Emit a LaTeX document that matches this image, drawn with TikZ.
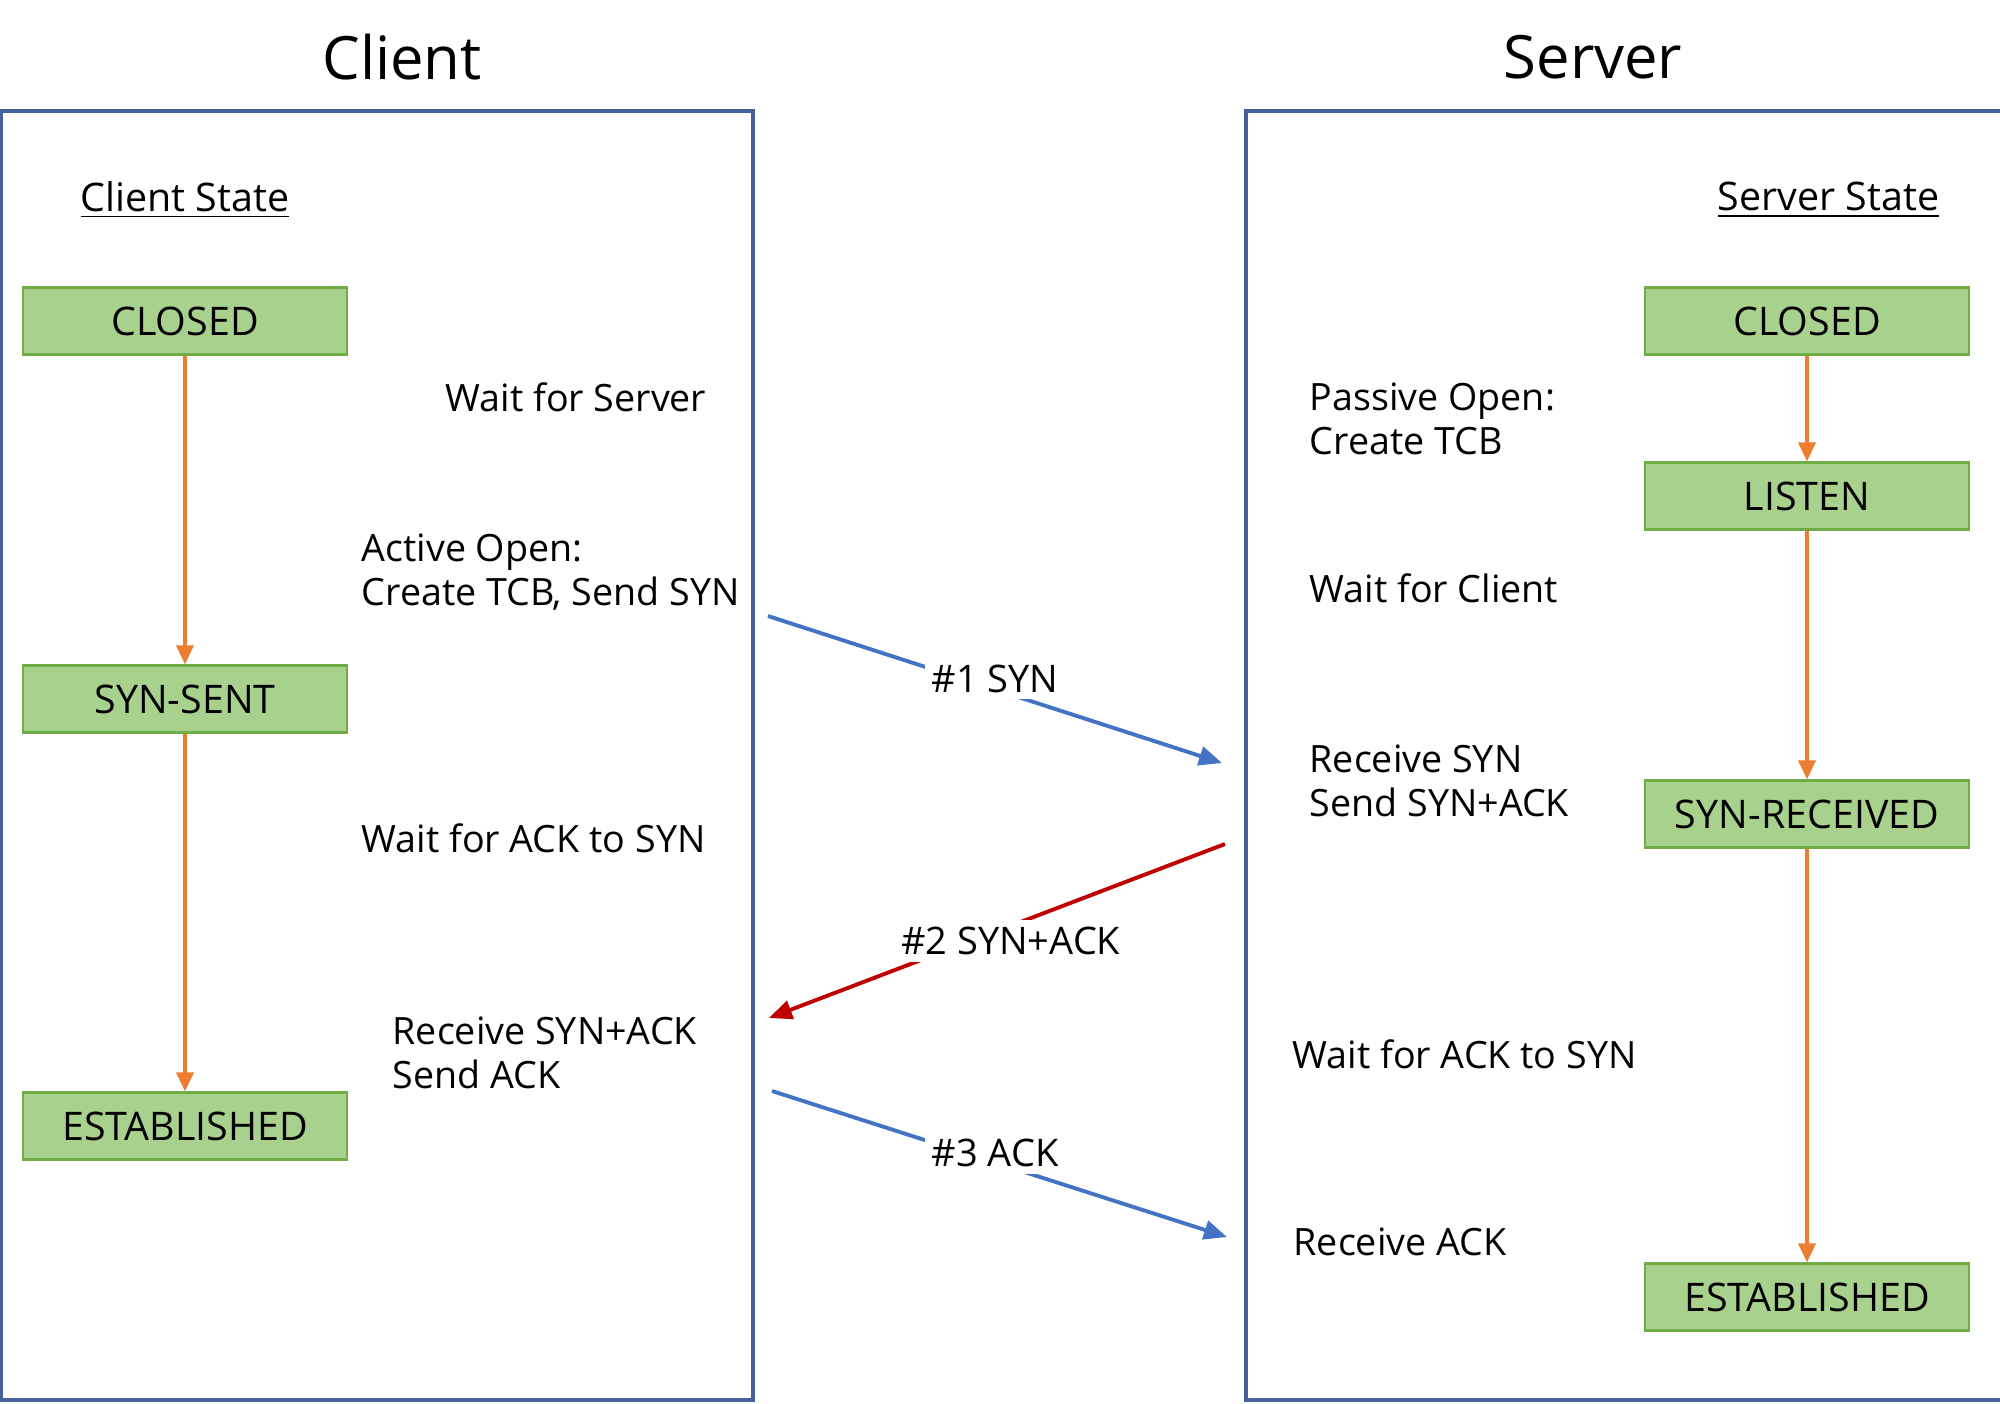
\documentclass[tikz,border=0pt]{standalone}
\usepackage{fontspec}
\setmainfont{Open Sans}
\usetikzlibrary{arrows.meta,positioning}
\definecolor{frameblue}{HTML}{44619B}
\definecolor{stfill}{HTML}{A9D18E}
\definecolor{stdraw}{HTML}{70AD47}
\definecolor{trorange}{HTML}{ED7D31}
\definecolor{synblue}{HTML}{4472C4}
\definecolor{ackred}{HTML}{C00000}

\begin{document}
\begin{tikzpicture}[x=0.01cm, y=-0.01cm,
  txt/.style={font=\fontsize{10.7}{12.5}\selectfont, inner sep=0pt, align=left, anchor=west},
  ttl/.style={font=\fontsize{17}{22}\selectfont, inner sep=0pt},
  state/.style={draw=stdraw, fill=stfill, line width=0.6pt, minimum width=3.23cm,
                minimum height=0.67cm, inner sep=0pt, font=\fontsize{11.2}{13}\selectfont},
  frame/.style={draw=frameblue, line width=0.9pt},
  trans/.style={-{Triangle[length=1.9mm,width=1.7mm]}, trorange, line width=1pt},
  msg/.style={-{Triangle[length=2.3mm,width=1.9mm]}, line width=1.1pt},
  lbl/.style={font=\fontsize{10.8}{12.5}\selectfont, text=black, fill=white, inner sep=2pt}]
  \useasboundingbox[fill=white] (0,0) rectangle (2000,1403);
  % frames and titles
  \draw[frame] (1,111) rectangle (753,1400);
  \draw[frame] (2010,111) -- (1246,111) -- (1246,1400) -- (2010,1400);
  \node[ttl] (client) at (402,57) {Client};
  \node[ttl] (server) at (1593,57) {Server};
  \node[txt, font=\fontsize{11.2}{13}\selectfont] (cstate) at (80,200) {\underline{Client State}};
  \node[txt, font=\fontsize{11.2}{13}\selectfont, anchor=east] (sstate) at (1940,200) {\underline{Server State}};
  % client states
  \node[state] (cclosed) at (185,321) {CLOSED};
  \node[state] (csynsent) at (185,699) {SYN-SENT};
  \node[state] (cestab) at (185,1126) {ESTABLISHED};
  % server states
  \node[state] (sclosed) at (1807,321) {CLOSED};
  \node[state] (slisten) at (1807,496) {LISTEN};
  \node[state] (ssynrcvd) at (1807,814) {SYN-RECEIVED};
  \node[state] (sestab) at (1807,1297) {ESTABLISHED};
  % client notes
  \node[txt] (cwait) at (445,397) {Wait for Server};
  \node[txt] (copen) at (361,572) {Active Open:\\Create TCB, Send SYN};
  \node[txt] (cwaitack) at (361,838) {Wait for ACK to SYN};
  \node[txt] (crecv) at (392,1053) {Receive SYN+ACK\\Send ACK};
  % server notes
  \node[txt] (sopen) at (1309,419) {Passive Open:\\Create TCB};
  \node[txt] (swait) at (1309,588) {Wait for Client};
  \node[txt] (srecv) at (1309,781) {Receive SYN\\Send SYN+ACK};
  \node[txt] (swaitack) at (1292,1054) {Wait for ACK to SYN};
  \node[txt] (srecvack) at (1293,1242) {Receive ACK};
  % state transitions
  \draw[trans] (cclosed) -- (csynsent);
  \draw[trans] (csynsent) -- (cestab);
  \draw[trans] (sclosed) -- (slisten);
  \draw[trans] (slisten) -- (ssynrcvd);
  \draw[trans] (ssynrcvd) -- (sestab);
  % handshake messages
  \coordinate (syna) at (768,616);
  \coordinate (synb) at (1222,763);
  \coordinate (acka) at (1225,844);
  \coordinate (ackb) at (769,1018);
  \coordinate (fina) at (772,1091);
  \coordinate (finb) at (1227,1237);
  \draw[msg, synblue] (syna) -- node[lbl, pos=0.5, yshift=1.1mm] (synl) {\#1 SYN} (synb);
  \draw[msg, ackred] (acka) -- node[lbl, pos=0.47, yshift=-1.5mm] (ackl) {\#2 SYN+ACK} (ackb);
  \draw[msg, synblue] (fina) -- node[lbl, pos=0.49, yshift=1mm] (finl) {\#3 ACK} (finb);
\end{tikzpicture}
\end{document}
